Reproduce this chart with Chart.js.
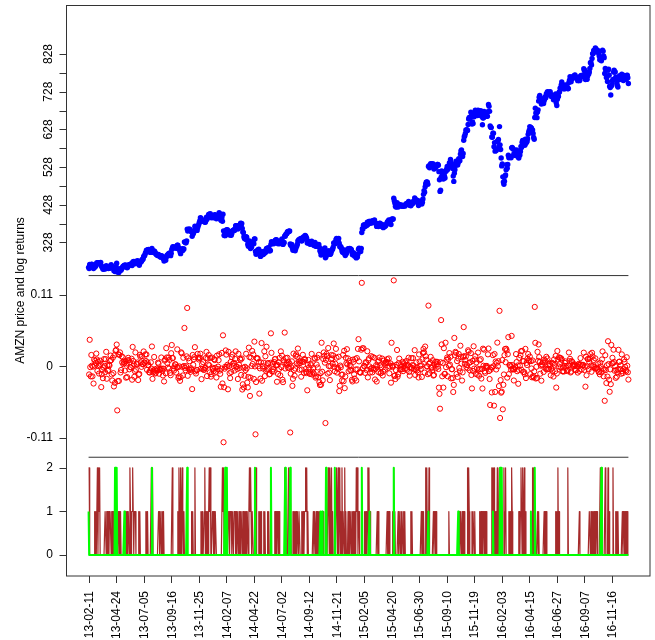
<!DOCTYPE html>
<html>
<head>
<meta charset="utf-8">
<script src="https://cdn.jsdelivr.net/npm/chart.js@4.4.1/dist/chart.umd.min.js"></script>
<style>
  html, body { margin: 0; padding: 0; background: #ffffff; }
  #plot { display: block; }
</style>
</head>
<body>
<canvas id="plot" width="655" height="640"></canvas>
<script>
// AMZN daily closes, 2013-02-11 .. 2016-12-30 (one row per month)
const closes = [
  261.9,258.7,269.5,269.2,265.1,269.8,270.1,266.0,265.9,259.0,261.7,262.0,264.3,
  265.7,271.0,273.9,272.0,274.0,274.2,271.2,271.7,274.1,275.1,266.5,263.3,262.0,257.3,256.9,259.8,260.0,257.7,260.6,266.5,
  261.5,262.0,260.2,258.8,259.4,259.8,262.0,266.4,269.0,265.7,260.0,263.5,260.8,252.9,257.3,250.9,257.0,263.6,272.6,254.8,249.1,253.8,
  248.2,252.6,258.1,255.7,254.3,258.3,259.9,263.6,264.5,266.4,267.7,266.0,268.2,263.6,264.8,260.5,263.0,266.5,269.0,267.8,269.5,269.2,
  268.8,272.0,266.5,274.6,276.9,277.8,273.4,271.4,277.3,275.9,277.0,277.9,279.6,273.8,270.4,267.3,272.1,276.2,277.9,277.7,
  282.1,283.0,284.0,290.6,292.3,294.0,299.5,302.0,307.6,306.0,307.9,308.6,309.1,306.4,303.5,301.6,303.5,302.5,311.9,306.0,303.2,301.2,
  305.6,304.2,300.9,298.0,296.0,295.0,293.3,295.0,296.3,293.0,291.4,290.0,289.0,293.0,292.0,290.0,286.0,285.0,278.5,281.0,284.0,281.0,
  289.0,293.0,294.5,294.0,298.0,297.0,300.0,297.0,293.0,299.0,309.0,313.0,317.0,316.0,314.0,314.0,315.0,316.0,313.0,312.6,
  320.9,320.5,314.8,310.0,310.0,303.2,298.2,304.7,310.9,310.7,306.4,310.5,310.7,329.6,328.9,327.0,327.1,332.2,363.4,358.2,362.7,361.1,364.0,
  362.0,359.0,358.0,356.3,344.1,350.2,351.0,354.9,360.0,370.8,368.0,364.0,362.0,360.0,367.0,372.0,376.0,381.0,386.0,393.6,
  392.3,384.7,386.0,384.5,387.0,384.9,383.0,382.0,381.3,386.3,395.0,389.2,394.0,395.2,402.2,402.9,399.2,404.4,398.1,393.4,398.8,
  398.0,396.4,393.6,398.0,401.9,401.0,397.7,391.0,397.5,395.9,395.8,399.6,407.1,404.5,399.9,387.6,386.3,394.4,384.2,403.0,358.7,
  347.4,346.2,346.0,354.6,361.1,360.9,361.8,349.3,357.2,357.4,353.7,347.4,349.8,346.8,351.8,358.3,359.8,360.1,362.1,
  359.8,363.9,372.4,372.2,372.1,370.6,363.5,370.6,371.5,370.6,375.0,378.8,373.9,378.5,365.3,355.4,354.7,343.4,338.5,338.3,336.4,
  343.0,342.0,333.6,323.0,317.8,327.1,331.8,317.1,311.7,315.9,316.1,323.7,324.9,330.9,324.6,337.2,337.2,303.8,296.6,300.4,304.1,
  307.9,308.0,310.1,297.4,296.5,291.0,292.8,303.5,296.9,297.0,296.0,297.7,304.7,300.2,304.9,302.9,312.2,310.8,312.2,313.8,312.6,
  308.8,305.2,306.9,322.9,329.7,327.2,328.4,326.9,324.3,326.5,330.1,333.9,334.4,335.0,327.2,328.0,324.2,326.3,325.0,329.3,324.8,
  332.4,332.0,337.5,330.7,322.8,325.9,328.0,345.5,344.4,348.9,350.7,351.6,356.3,355.6,358.0,357.2,358.6,324.0,320.4,320.0,322.5,313.0,
  307.1,313.2,311.4,307.0,306.0,311.0,316.8,318.3,323.0,332.0,333.2,335.7,334.0,335.7,338.5,333.2,331.6,334.0,340.0,342.4,339.0,
  342.9,346.4,345.0,342.1,338.6,326.4,327.2,330.5,330.0,326.8,323.0,324.4,325.0,331.3,327.2,324.5,323.6,320.0,324.2,328.0,322.4,
  317.5,318.4,322.7,322.2,317.0,322.7,315.0,306.1,302.9,294.5,305.4,302.9,296.5,299.9,306.4,311.4,313.2,287.1,290.0,295.6,300.3,297.0,305.5,
  305.7,302.8,296.5,296.6,299.9,305.2,309.0,310.2,315.5,326.8,326.5,324.1,325.4,334.3,338.8,335.6,335.0,333.6,338.6,
  326.0,316.5,316.9,316.5,312.5,305.8,302.0,307.4,300.5,307.8,297.7,293.1,297.0,298.5,306.5,307.4,311.2,308.9,311.4,312.0,310.3,310.4,
  308.5,302.2,295.3,298.4,300.5,296.9,291.4,294.7,293.3,287.0,290.7,289.4,297.3,310.0,312.4,309.7,306.8,303.9,311.8,354.5,
  364.5,363.6,373.9,374.3,374.3,370.6,373.0,375.1,373.0,381.8,375.4,379.0,383.7,383.7,380.1,378.6,384.6,383.7,380.2,
  385.7,384.6,382.7,387.8,380.1,378.6,379.3,370.6,370.6,373.2,370.0,373.4,378.5,379.1,375.1,371.5,371.0,375.5,370.3,367.3,370.6,372.1,
  370.3,372.3,374.4,377.0,381.2,383.5,382.7,387.4,383.3,383.3,385.1,375.6,389.5,389.9,389.5,390.0,445.1,438.6,432.5,424.2,421.8,
  422.9,433.7,426.9,421.8,423.9,429.0,427.0,427.8,426.0,425.9,424.0,427.0,423.9,426.0,425.9,424.3,426.9,427.8,431.4,429.2,
  430.0,430.8,436.6,433.0,426.9,426.6,425.3,430.8,429.9,430.8,436.3,436.9,434.9,445.9,440.1,438.1,440.8,440.0,437.4,433.5,426.2,434.1,
  437.4,437.7,436.0,436.7,429.7,434.4,443.5,455.6,465.6,461.2,475.5,483.0,488.0,488.2,488.0,482.2,529.4,531.4,526.0,529.0,536.8,536.2,
  535.0,531.9,537.0,529.5,522.6,524.0,527.5,525.9,529.7,531.5,535.2,535.0,532.9,515.8,494.5,463.4,466.4,500.8,518.0,510.2,512.9,
  496.5,510.6,504.7,499.0,517.5,516.9,522.2,529.4,521.4,527.4,528.0,538.9,540.3,548.4,538.4,536.1,533.8,524.3,504.1,490.0,511.9,
  520.7,532.5,543.7,537.5,541.9,533.2,539.8,550.2,548.9,544.8,562.4,570.8,573.2,560.9,555.8,563.9,599.0,608.6,611.0,617.1,626.6,625.9,
  627.2,625.3,641.0,655.7,659.4,655.5,659.7,673.3,664.5,642.4,647.8,643.3,663.5,661.3,668.5,679.0,671.2,675.3,673.3,664.8,
  679.1,676.0,666.3,672.6,669.8,677.3,664.8,662.3,640.2,657.9,658.6,675.8,670.7,664.1,664.5,663.2,663.7,662.8,675.2,694.0,689.1,675.9,
  637.0,633.8,632.7,607.9,607.1,617.7,617.9,581.8,593.0,570.2,574.5,571.8,575.0,596.4,596.5,601.3,583.4,635.4,587.0,
  574.8,552.1,531.1,536.3,502.1,488.1,482.1,490.5,503.8,507.1,521.1,534.1,525.0,534.9,559.5,552.9,554.0,555.2,555.2,552.5,
  579.0,580.2,577.5,575.1,562.8,560.3,559.5,558.9,569.6,573.4,569.2,570.0,555.0,552.1,559.4,560.0,569.6,583.0,579.9,593.9,598.7,593.6,
  598.5,593.2,586.1,602.1,591.4,594.6,595.9,603.2,614.8,620.8,625.9,635.4,627.9,633.0,631.0,620.5,626.2,616.9,606.6,602.0,659.6,
  683.9,671.3,670.9,659.1,674.0,679.8,703.1,713.2,717.9,709.9,710.7,695.3,697.5,698.5,702.8,696.8,704.2,708.4,714.9,712.2,722.8,
  719.4,728.2,725.5,726.7,723.7,726.6,727.7,717.9,715.2,719.3,714.3,717.5,706.4,714.0,715.8,710.6,722.1,699.0,691.4,708.0,715.6,715.6,
  725.7,728.1,737.6,736.6,745.8,753.8,748.2,742.6,741.2,735.4,736.1,740.0,745.7,744.4,744.9,739.6,735.6,736.7,752.6,758.8,
  767.7,760.6,754.6,760.8,766.0,766.6,768.3,768.6,771.2,772.6,768.5,764.0,764.6,764.5,757.3,759.5,762.5,757.3,759.2,769.0,771.3,767.6,769.2,
  770.6,772.4,788.9,784.5,784.1,760.1,771.5,761.0,761.1,769.7,778.5,775.1,780.2,789.7,804.7,805.8,799.2,816.1,828.7,829.1,837.3,
  836.7,834.0,844.4,841.7,839.4,837.9,834.1,837.0,829.8,823.0,813.0,817.7,817.7,810.3,819.0,838.1,835.2,822.6,818.4,776.3,789.8,
  785.4,765.6,767.0,755.1,784.9,787.8,771.9,742.4,739.0,719.1,743.2,746.5,756.4,760.2,780.0,785.3,780.1,780.4,766.8,762.5,750.6,
  743.7,740.3,759.4,764.7,770.4,767.3,768.7,760.1,774.3,768.8,761.0,757.8,766.0,771.2,770.6,766.3,760.6,771.4,772.1,765.2,749.9
];

// Daily state codes (0/1/2), 50 trading days per row
const brownStates = (
  '22000000000101002021200000000011011010111011010020' +
  '00001010100000001101101102101121011100000101000000' +
  '00001011000000202000000000011011010110000000000000' +
  '00200000000010210210210100000000000001010002000000' +
  '00001010001201101012120001101011000000000002120000' +
  '00001101110110111010110110111011010110110121210110' +
  '00202000010101000010100001010000000000110101101000' +
  '00000020200002002200011010110110110001011011212010' +
  '00000000101101010010101010100000000210201201000000' +
  '21020120102011020100010101101011011021201100000000' +
  '01011012020100000000000010100000000000000010101000' +
  '00102010000010110101101010000000000101000000000000' +
  '00001010100020201020000000101101000000000000000000' +
  '00001000000000000000000101101010100000202100001011' +
  '01000000001011010110101000000000212020101020002000' +
  '00002012000001011021000000000001101210210201000000' +
  '00000020201000010100000000010101000000000000000010' +
  '10201000000000000000200000000000000000000100000000' +
  '00000000011011010110101100000202000000200002010000' +
  '0020000101010000000101101010100'
).split('').map(Number);

const greenStates = (
  '10000000000000000000000000000000000000000000000020' +
  '02000000000000010000000000000000000000000000000000' +
  '00000000000000020000000000000000000000000000000000' +
  '00000000000000000000000000000200000000000000000000' +
  '00000000000000000000000000000000000000000000000020' +
  '12000000000000000000000000000000000000000000000000' +
  '00200000000000000000000000000002000000000000000000' +
  '00000002000000002000000000000000000000000000000000' +
  '00000000000000000000010010000002000000000000000200' +
  '00000000000000000000000000000000000000000000002000' +
  '00000000001000000000000000000000000000000000000000' +
  '00002000000000000000000000000000000000000000000000' +
  '00000000000000000100000000000000000000000000000000' +
  '00000000000000000000010000000000000000000000000000' +
  '00000000000000000000000000000000001000000000000200' +
  '20000000000000000000000000000000000000000000000000' +
  '00010000002000000000000000000000000000000000000000' +
  '00000000000000000000000000000000000000000000000000' +
  '00000000000000000000000000000002000000000000000000' +
  '0000000000000000000000000000000'
).split('').map(Number);

// Axis annotations
const dateTickDays = [0,50,100,150,200,250,300,350,400,450,500,550,600,650,700,750,800,850,900,950];
const dateTickLabels = ['13-02-11','13-04-24','13-07-05','13-09-16','13-11-25','14-02-07','14-04-22','14-07-02',
  '14-09-12','14-11-21','15-02-05','15-04-20','15-06-30','15-09-10','15-11-19','16-02-03','16-04-15','16-06-27',
  '16-09-07','16-11-16'];
const priceTicks = [828,778,728,678,628,578,528,478,428,378,328];
const priceTickLabels = [828,728,628,528,428,328];
const returnTicks = [0.11, 0, -0.11];
const returnTickLabels = ['0.11', '0', '-0.11'];
const stateTicks = [2, 1, 0];
const panelBreaks = [0.1395, -0.1395];
const yTitle = 'AMZN price and log returns';

// Log returns of the closes, dated on the later day
const logReturns = closes.slice(1).map((p, i) => Math.log(p / closes[i]));

const lastDay = closes.length - 1;
const pricePoints = closes.map((v, i) => ({x: i, y: v}));
const returnPoints = logReturns.map((v, i) => ({x: i + 1, y: v}));
const brownPoints = brownStates.map((v, i) => ({x: i, y: v}));
const greenPoints = greenStates.map((v, i) => ({x: i, y: v}));
const breakLines = panelBreaks.map(v => [{x: 0, y: v}, {x: lastDay, y: v}]);

const FONT = '"Liberation Sans", Arial, Helvetica, sans-serif';
const INK = '#333333';

// Frame, ticks and rotated labels in the style of a base-graphics plot
const frameAndAxes = {
  id: 'frameAndAxes',
  afterDraw(chart) {
    const {ctx, chartArea: a, scales} = chart;
    const px = v => Math.round(v) + 0.5;
    ctx.save();
    ctx.strokeStyle = INK;
    ctx.fillStyle = '#000000';
    ctx.lineWidth = 1;
    ctx.strokeRect(a.left - 0.5, a.top + 0.5, a.right - a.left + 0.5, a.bottom - a.top - 0.5);

    const tickLen = 7;
    const yTick = y => {
      ctx.beginPath();
      ctx.moveTo(a.left - 0.5, px(y));
      ctx.lineTo(a.left - 0.5 - tickLen, px(y));
      ctx.stroke();
    };
    priceTicks.forEach(v => yTick(scales.yPrice.getPixelForValue(v)));
    returnTicks.forEach(v => yTick(scales.yRet.getPixelForValue(v)));
    stateTicks.forEach(v => yTick(scales.yState.getPixelForValue(v)));

    ctx.font = '12px ' + FONT;
    // price labels run along the axis
    priceTickLabels.forEach(v => {
      const y = scales.yPrice.getPixelForValue(v);
      ctx.save();
      ctx.translate(52, y);
      ctx.rotate(-Math.PI / 2);
      ctx.textAlign = 'center';
      ctx.textBaseline = 'alphabetic';
      ctx.fillText(String(v), 0, 0);
      ctx.restore();
    });
    ctx.textAlign = 'right';
    ctx.textBaseline = 'middle';
    returnTicks.forEach((v, i) => ctx.fillText(returnTickLabels[i], 53, scales.yRet.getPixelForValue(v)));
    stateTicks.forEach(v => ctx.fillText(String(v), 53, scales.yState.getPixelForValue(v)));

    // date axis
    dateTickDays.forEach((d, i) => {
      const x = scales.x.getPixelForValue(d);
      ctx.beginPath();
      ctx.moveTo(px(x), a.bottom);
      ctx.lineTo(px(x), a.bottom + tickLen);
      ctx.stroke();
      ctx.save();
      ctx.translate(x + 4.3, a.bottom + 15);
      ctx.rotate(-Math.PI / 2);
      ctx.textAlign = 'right';
      ctx.textBaseline = 'alphabetic';
      ctx.fillText(dateTickLabels[i], 0, 0);
      ctx.restore();
    });

    ctx.save();
    ctx.translate(20.5, (a.top + a.bottom) / 2);
    ctx.rotate(-Math.PI / 2);
    ctx.textAlign = 'center';
    ctx.textBaseline = 'middle';
    ctx.fillText(yTitle, 0, 0);
    ctx.restore();
    ctx.restore();
  }
};

new Chart(document.getElementById('plot'), {
  type: 'scatter',
  data: {
    datasets: [
      { data: greenPoints, yAxisID: 'yState', showLine: true, borderColor: '#00ff00',
        borderWidth: 2, pointRadius: 0, borderJoinStyle: 'round' },
      { data: brownPoints, yAxisID: 'yState', showLine: true, borderColor: '#a52a2a',
        borderWidth: 1.2, pointRadius: 0, borderJoinStyle: 'round' },
      { data: breakLines[0], yAxisID: 'yRet', showLine: true, borderColor: INK,
        borderWidth: 1, pointRadius: 0 },
      { data: breakLines[1], yAxisID: 'yRet', showLine: true, borderColor: INK,
        borderWidth: 1, pointRadius: 0 },
      { data: returnPoints, yAxisID: 'yRet', pointRadius: 2.6, pointBorderWidth: 1,
        pointBackgroundColor: 'rgba(0,0,0,0)', pointBorderColor: '#ff0000' },
      { data: pricePoints, yAxisID: 'yPrice', pointRadius: 2.7, pointBorderWidth: 0,
        pointBackgroundColor: '#0000ff', pointBorderColor: '#0000ff' }
    ]
  },
  options: {
    responsive: false,
    animation: false,
    devicePixelRatio: 1,
    events: [],
    layout: { padding: { left: 67, top: 2, right: 3, bottom: 64 } },
    plugins: { legend: { display: false }, tooltip: { enabled: false } },
    scales: {
      x: { type: 'linear', display: false, min: -39.2, max: 1019.2 },
      yPrice: { type: 'linear', position: 'left', display: false, min: -557.2, max: 958.1 },
      yRet: { type: 'linear', position: 'left', display: false, min: -0.3219, max: 0.5551 },
      yState: { type: 'linear', position: 'left', display: false, min: -0.4789, max: 12.611 }
    }
  },
  plugins: [frameAndAxes]
});
</script>
</body>
</html>
